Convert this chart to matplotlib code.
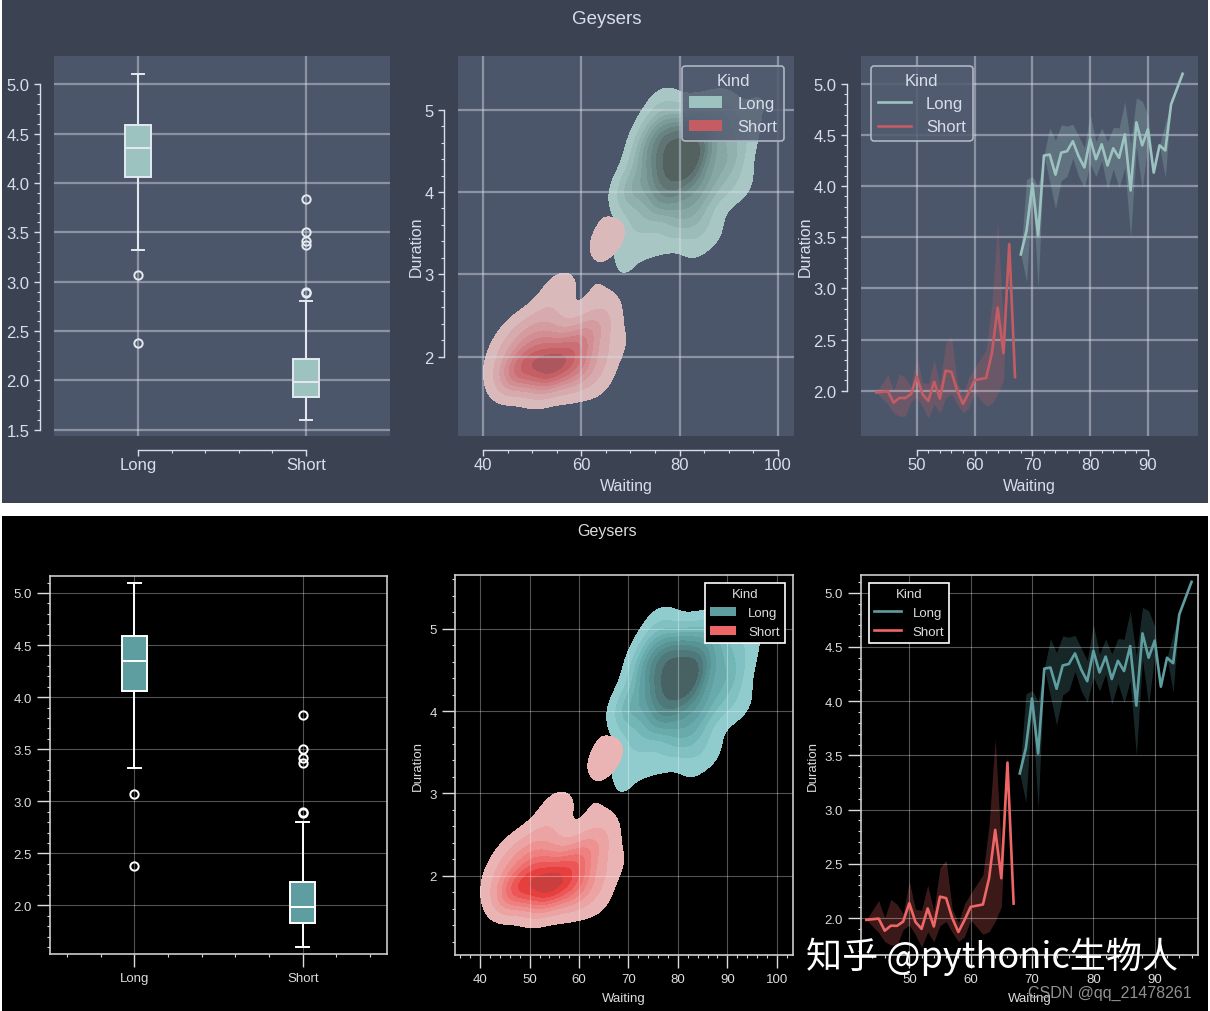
import numpy as np
import pandas as pd
import matplotlib
matplotlib.use('Agg')
import matplotlib.pyplot as plt
from matplotlib.patches import Rectangle, Patch
from matplotlib.lines import Line2D
import seaborn as sns

plt.rcParams['font.family'] = ['Liberation Sans', 'DejaVu Sans']

# Old Faithful eruptions (duration in minutes, waiting time in minutes)
duration = [
    3.600, 1.800, 3.333, 2.283, 4.533, 2.883, 4.700, 3.600, 1.950, 4.350,
    1.833, 3.917, 4.200, 1.750, 4.700, 2.167, 1.750, 4.800, 1.600, 4.250,
    1.800, 1.750, 3.450, 3.067, 4.533, 3.600, 1.967, 4.083, 3.850, 4.433,
    4.300, 4.467, 3.367, 4.033, 3.833, 2.017, 1.867, 4.833, 1.833, 4.783,
    4.350, 1.883, 4.567, 1.750, 4.533, 3.317, 3.833, 2.100, 4.633, 2.000,
    4.800, 4.716, 1.833, 4.833, 1.733, 4.883, 3.717, 1.667, 4.567, 4.317,
    2.233, 4.500, 1.750, 4.800, 1.817, 4.400, 4.167, 4.700, 2.067, 4.700,
    4.033, 1.967, 4.500, 4.000, 1.983, 5.067, 2.017, 4.567, 3.883, 3.600,
    4.133, 4.333, 4.100, 2.633, 4.067, 4.933, 3.950, 4.517, 2.167, 4.000,
    2.200, 4.333, 1.867, 4.817, 1.833, 4.300, 4.667, 3.750, 1.867, 4.900,
    2.483, 4.367, 2.100, 4.500, 4.050, 1.867, 4.700, 1.783, 4.850, 3.683,
    4.733, 2.300, 4.900, 4.417, 1.700, 4.633, 2.317, 4.600, 1.817, 4.417,
    2.617, 4.067, 4.250, 1.967, 4.600, 3.767, 1.917, 4.500, 2.267, 4.650,
    1.867, 4.167, 2.800, 4.333, 1.833, 4.383, 1.883, 4.933, 2.033, 3.733,
    4.233, 2.233, 4.533, 4.817, 4.333, 1.983, 4.633, 2.017, 5.100, 1.800,
    5.033, 4.000, 2.400, 4.600, 3.567, 4.000, 4.500, 4.083, 1.800, 3.967,
    2.200, 4.150, 2.000, 3.833, 3.500, 4.583, 2.367, 5.000, 1.933, 4.617,
    1.917, 2.083, 4.583, 3.333, 4.167, 4.333, 4.500, 2.417, 4.000, 4.167,
    1.883, 4.583, 4.250, 3.767, 2.033, 4.433, 4.083, 1.833, 4.417, 2.183,
    4.800, 1.833, 4.800, 4.100, 3.966, 4.233, 3.500, 4.366, 2.250, 4.667,
    2.100, 4.350, 4.133, 1.867, 4.600, 1.783, 4.367, 3.850, 1.933, 4.500,
    2.383, 4.700, 1.867, 3.833, 3.417, 4.233, 2.400, 4.800, 2.000, 4.150,
    1.867, 4.267, 1.750, 4.483, 4.000, 4.117, 4.083, 4.267, 3.917, 4.550,
    4.083, 2.417, 4.183, 2.217, 4.450, 1.883, 1.850, 4.283, 3.950, 2.333,
    4.150, 2.350, 4.933, 2.900, 4.583, 3.833, 2.083, 4.367, 2.133, 4.350,
    2.200, 4.450, 3.567, 4.500, 4.150, 3.817, 3.917, 4.450, 2.000, 4.283,
    4.767, 4.533, 1.850, 4.250, 1.983, 2.250, 4.750, 4.117, 2.150, 4.417,
    1.817, 4.467,
]
waiting = [
    79, 54, 74, 62, 85, 55, 88, 85, 51, 85,
    54, 84, 78, 47, 83, 52, 62, 84, 52, 79,
    51, 47, 78, 69, 74, 83, 55, 76, 78, 79,
    73, 77, 66, 80, 74, 52, 48, 80, 59, 90,
    80, 58, 84, 58, 73, 83, 64, 53, 82, 59,
    75, 90, 54, 80, 54, 83, 71, 64, 77, 81,
    59, 84, 48, 82, 60, 92, 78, 78, 65, 73,
    82, 56, 79, 71, 62, 76, 60, 78, 76, 83,
    75, 82, 70, 65, 73, 88, 76, 80, 48, 86,
    60, 90, 50, 78, 63, 72, 84, 75, 51, 82,
    62, 88, 49, 83, 81, 47, 84, 52, 86, 81,
    75, 59, 89, 79, 59, 81, 50, 85, 59, 87,
    53, 69, 77, 56, 88, 81, 45, 82, 55, 90,
    45, 83, 56, 89, 46, 82, 51, 86, 53, 79,
    81, 60, 82, 77, 76, 59, 80, 49, 96, 53,
    77, 77, 65, 81, 71, 70, 81, 93, 53, 89,
    45, 86, 58, 78, 66, 76, 63, 88, 52, 93,
    49, 57, 77, 68, 81, 81, 73, 50, 85, 74,
    55, 77, 83, 83, 51, 78, 84, 46, 83, 55,
    81, 57, 76, 84, 77, 81, 87, 77, 51, 78,
    60, 82, 91, 53, 78, 46, 77, 84, 49, 83,
    71, 80, 49, 75, 64, 76, 53, 94, 55, 76,
    50, 82, 54, 75, 78, 79, 78, 78, 70, 79,
    70, 54, 86, 50, 90, 54, 54, 77, 79, 64,
    75, 47, 86, 63, 85, 82, 57, 82, 67, 74,
    54, 83, 73, 73, 88, 80, 71, 83, 56, 79,
    78, 84, 58, 83, 43, 60, 75, 81, 46, 90,
    46, 74,
]
KINDS = ['Long', 'Short']
SHORT_MAX_WAIT = 67  # eruptions after a wait <= 67 min are "Short"

df = pd.DataFrame({'duration': duration, 'waiting': waiting})
df['kind'] = np.where(df['waiting'] <= SHORT_MAX_WAIT, 'Short', 'Long')

W, H = 1210, 1012

# two looks of the same figure
NORD = dict(fig_bg='#3B4252', ax_bg='#4C566A', fg='#D8DEE9', edge='#E5E9F0',
            grid='#D8DEE9', grid_alpha=0.45, grid_lw=1.6,
            long='#9CC3BF', short='#C45C63', band_alpha=0.25,
            spine='#D8DEE9', spine_lw=1.0, trim=True,
            major_len=4.5, minor_len=2.2, xpad=0.5, ypad=3.0,
            xlabelpad=4.5, ylabelpad=0.5,
            tick_size=12, label_size=11.5, title_size=13.5, legend_size=12,
            leg_face=(0.32, 0.36, 0.44, 0.85), leg_edge='#AEB6C4', fancy=True,
            kde_xstep=20, kde_xminor=5, rect=(2, 0, 1208, 504), title_y=19,
            axes=[(54, 57, 390, 437), (458, 57, 794, 437), (861, 57, 1198, 437)],
            box_ylim=(1.436, 5.287), line_xlim=(40.35, 98.66), line_ylim=(1.557, 5.274))
DARK = dict(fig_bg='#000000', ax_bg='#000000', fg='#DDDDDD', edge='#FFFFFF',
            grid='#FFFFFF', grid_alpha=0.33, grid_lw=0.8,
            long='#5F9EA0', short='#EE6666', band_alpha=0.25,
            spine='#CCCCCC', spine_lw=1.2, trim=False,
            major_len=9.4, minor_len=2.4, xpad=3.5, ypad=3.5,
            xlabelpad=5.0, ylabelpad=4.0,
            tick_size=9.5, label_size=9.5, title_size=11.5, legend_size=9.5,
            leg_face=(0, 0, 0, 1), leg_edge='#FFFFFF', fancy=False,
            kde_xstep=10, kde_xminor=2, rect=(2, 517, 1208, 1012), title_y=532,
            axes=[(50, 577, 387, 955), (455, 576, 793, 956), (861, 576, 1198, 956)],
            box_ylim=(1.534, 5.163), line_xlim=(42.13, 97.05), line_ylim=(1.659, 5.163))

fig = plt.figure(figsize=(W / 100, H / 100), dpi=100, facecolor='white')


def add_axes_px(x0, y0, x1, y1):
    return fig.add_axes([x0 / W, 1 - y1 / H, (x1 - x0) / W, (y1 - y0) / H])


def set_ticks(ax, th, xmaj, ymaj, xminor, yminor):
    ax.set_xticks(xmaj)
    ax.set_yticks(ymaj)
    if th['trim']:
        xm = np.arange(xmaj[0], xmaj[-1] + 1e-9, xminor)
        ym = np.arange(ymaj[0], ymaj[-1] + 1e-9, yminor)
        ax.spines['bottom'].set_bounds(xmaj[0], xmaj[-1])
        ax.spines['left'].set_bounds(ymaj[0], ymaj[-1])
    else:
        x0, x1 = ax.get_xlim()
        y0, y1 = ax.get_ylim()
        xm = np.arange(np.ceil(x0 / xminor) * xminor, x1, xminor)
        ym = np.arange(np.ceil(y0 / yminor) * yminor, y1, yminor)
    ax.set_xticks(xm, minor=True)
    ax.set_yticks(ym, minor=True)


def style(ax, th):
    ax.set_facecolor(th['ax_bg'])
    ax.grid(True, which='major', color=th['grid'], alpha=th['grid_alpha'],
            linewidth=th['grid_lw'])
    ax.tick_params(which='both', direction='out', colors=th['fg'],
                   labelsize=th['tick_size'])
    ax.tick_params(which='major', length=th['major_len'], width=1)
    ax.tick_params(which='minor', length=th['minor_len'], width=0.8)
    ax.tick_params(axis='x', which='both', pad=th['xpad'])
    ax.tick_params(axis='y', which='both', pad=th['ypad'])
    for s in ax.spines.values():
        s.set_color(th['spine'])
        s.set_linewidth(th['spine_lw'])
    if th['trim']:
        ax.spines['top'].set_visible(False)
        ax.spines['right'].set_visible(False)
        ax.spines['left'].set_position(('outward', 10))
        ax.spines['bottom'].set_position(('outward', 10))


def axis_labels(ax, th):
    ax.set_xlabel('Waiting', fontsize=th['label_size'], color=th['fg'],
                  labelpad=th['xlabelpad'])
    ax.set_ylabel('Duration', fontsize=th['label_size'], color=th['fg'],
                  labelpad=th['ylabelpad'])


def legend(ax, th, handles, loc):
    leg = ax.legend(handles=handles, title='Kind', loc=loc, fontsize=th['legend_size'],
                    title_fontsize=th['legend_size'], fancybox=th['fancy'],
                    handlelength=2.0, handletextpad=0.9, labelcolor=th['fg'],
                    borderaxespad=0.6)
    leg.get_title().set_color(th['fg'])
    fr = leg.get_frame()
    fr.set_facecolor(th['leg_face'])
    fr.set_edgecolor(th['leg_edge'])
    fr.set_alpha(None)
    fr.set_linewidth(1.2)


def draw_box(ax, th):
    groups = [df.loc[df['kind'] == k, 'duration'].values for k in KINDS]
    lw = 1.4
    ax.boxplot(groups, positions=[0, 1], widths=0.15, patch_artist=True,
               boxprops=dict(facecolor=th['long'], edgecolor=th['edge'], linewidth=lw),
               medianprops=dict(color=th['edge'], linewidth=lw),
               whiskerprops=dict(color=th['edge'], linewidth=lw),
               capprops=dict(color=th['edge'], linewidth=lw),
               flierprops=dict(marker='o', markerfacecolor='none', markersize=6,
                               markeredgecolor=th['edge'], markeredgewidth=lw))
    ax.set_xlim(-0.5, 1.5)
    ax.set_ylim(*th['box_ylim'])
    ymaj = np.arange(1.5, 5.01, 0.5) if th['trim'] else np.arange(2.0, 5.01, 0.5)
    set_ticks(ax, th, [0, 1], ymaj, 0.2, 0.1)
    ax.set_xticklabels(KINDS)


def draw_kde(ax, th):
    sns.kdeplot(data=df, x='waiting', y='duration', hue='kind', hue_order=KINDS,
                palette=[th['long'], th['short']], fill=True, ax=ax, legend=False)
    ax.set_xlim(34.9, 103.3)
    ax.set_ylim(1.04, 5.65)
    set_ticks(ax, th, np.arange(40, 101, th['kde_xstep']), [2, 3, 4, 5],
              th['kde_xminor'], 0.2)
    axis_labels(ax, th)
    legend(ax, th, [Patch(facecolor=th['long'], label='Long'),
                    Patch(facecolor=th['short'], label='Short')], 'upper right')


def draw_line(ax, th):
    for k, c in zip(KINDS, [th['long'], th['short']]):
        sub = df[df['kind'] == k]
        xs, mean, lo, hi = [], [], [], []
        for w, grp in sub.groupby('waiting')['duration']:
            v = grp.values
            m = v.mean()
            half = 1.96 * v.std() / np.sqrt(len(v))
            xs.append(w)
            mean.append(m)
            lo.append(max(m - half, v.min()))
            hi.append(min(m + half, v.max()))
        ax.fill_between(xs, lo, hi, color=c, alpha=th['band_alpha'], linewidth=0)
        ax.plot(xs, mean, color=c, linewidth=1.9)
    ax.set_xlim(*th['line_xlim'])
    ax.set_ylim(*th['line_ylim'])
    set_ticks(ax, th, np.arange(50, 91, 10), np.arange(2.0, 5.01, 0.5), 2, 0.1)
    axis_labels(ax, th)
    legend(ax, th, [Line2D([], [], color=th['long'], lw=1.9, label='Long'),
                    Line2D([], [], color=th['short'], lw=1.9, label='Short')], 'upper left')


for th in (NORD, DARK):
    x0, y0, x1, y1 = th['rect']
    fig.add_artist(Rectangle((x0 / W, 1 - y1 / H), (x1 - x0) / W, (y1 - y0) / H,
                             transform=fig.transFigure, facecolor=th['fig_bg'],
                             edgecolor='none', zorder=-10))
    axs = [add_axes_px(*r) for r in th['axes']]
    for ax in axs:
        style(ax, th)
    draw_box(axs[0], th)
    draw_kde(axs[1], th)
    draw_line(axs[2], th)
    fig.text(607 / W, 1 - th['title_y'] / H, 'Geysers', ha='center', va='center',
             fontsize=th['title_size'], color=th['fg'])

# watermarks stamped on the screenshot
fig.text(992 / W, 1 - 957 / H, '知乎 @pythonic生物人', ha='center', va='center',
         fontsize=26, color='white', family=['Noto Sans CJK SC', 'DejaVu Sans'])
fig.text(1110 / W, 1 - 993 / H, 'CSDN @qq_21478261', ha='center', va='center',
         fontsize=11.5, color='#A0A0A0', alpha=0.9)

fig.savefig('out.png', dpi=100, facecolor='white')
